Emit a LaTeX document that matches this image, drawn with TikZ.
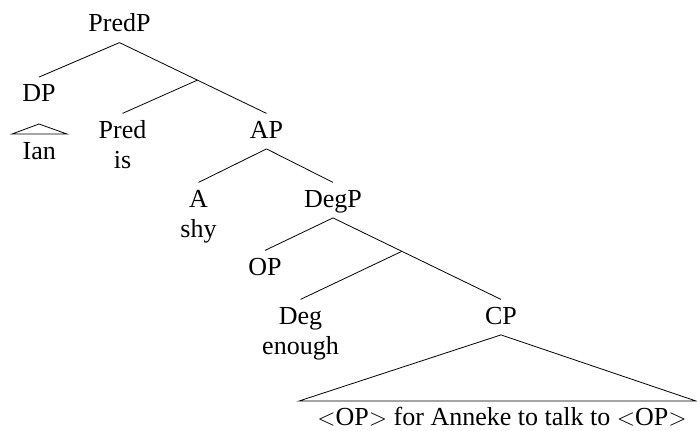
\documentclass[tikz,border=0pt]{standalone}
\usepackage{fontspec}
\setmainfont{Liberation Serif}
\tikzset{
  lab/.style={anchor=base, inner xsep=2pt, inner ysep=3.5pt,
    text height=8.6pt, text depth=1.75pt, font=\fontsize{13}{15.6}\selectfont}
}
\begin{document}
\begin{tikzpicture}[x=0.5pt,y=-0.5pt]
\useasboundingbox (0,0) rectangle (697,430);
\node[lab] (PredP) at (119.5,31.7) {PredP};
\node[lab] (DP) at (39,101.7) {DP};
\node[lab] (Ian) at (39.3,159) {Ian};
\node[lab] (Pred) at (122.5,138) {Pred};
\node[lab] (is) at (122.5,168) {is};
\node[lab] (AP) at (266.5,138) {AP};
\node[lab] (A) at (198.5,207) {A};
\node[lab] (shy) at (198.5,237) {shy};
\node[lab] (DegP) at (333,207) {DegP};
\node[lab] (OP) at (265,275) {OP};
\node[lab] (Deg) at (300.5,324) {Deg};
\node[lab] (enough) at (300.5,354) {enough};
\node[lab] (CP) at (501,324) {CP};
\node[lab] (CPtext) at (502,425.5) {$<$OP$>$ for Anneke to talk to $<$OP$>$};
\coordinate (IanTop) at (39,124);
\coordinate (IanL) at (12,134);
\coordinate (IanR) at (67,134);
\coordinate (CPL) at (299,401);
\coordinate (CPR) at (696,401);
\draw (PredP.south) -- (DP.north);
\draw (PredP.south) -- coordinate[pos=.53] (PredBar) (AP.north);
\draw (PredBar) -- (Pred.north);
\draw (IanTop) -- (IanL) -- (IanR) -- cycle;
\draw (AP.south) -- (A.north);
\draw (AP.south) -- (DegP.north);
\draw (DegP.south) -- (OP.north);
\draw (DegP.south) -- coordinate[pos=.41] (DegBar) (CP.north);
\draw (DegBar) -- (Deg.north);
\draw (CP.south) -- (CPL) -- (CPR) -- cycle;
\end{tikzpicture}
\end{document}
